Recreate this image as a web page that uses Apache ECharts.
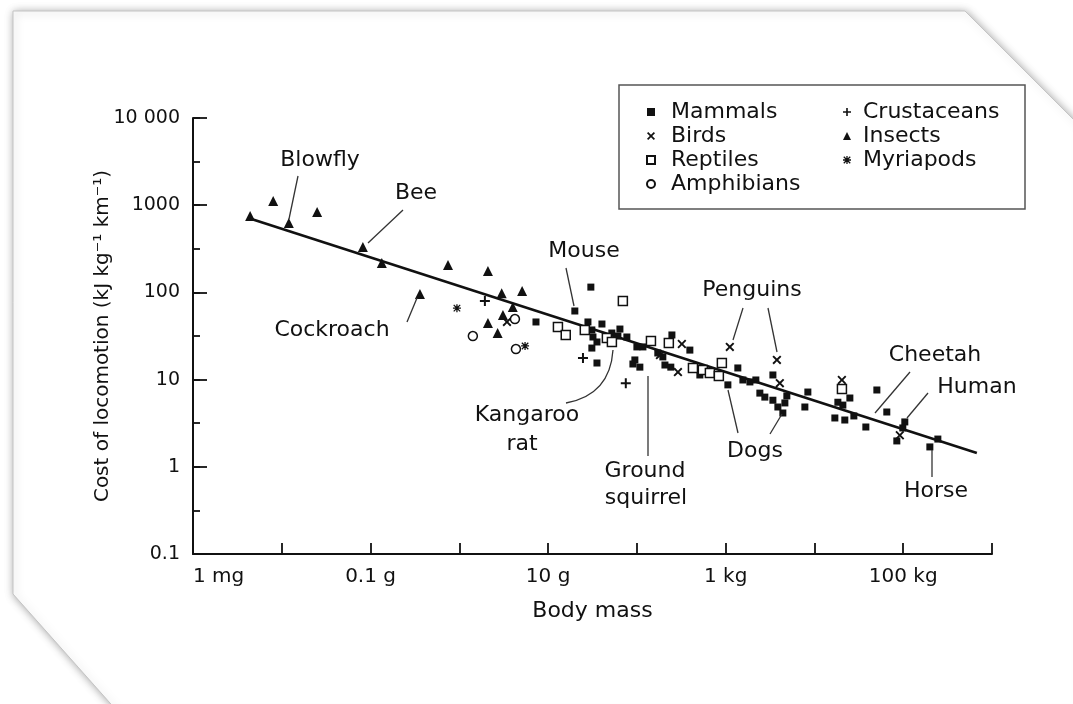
<!DOCTYPE html>
<html><head><meta charset="utf-8">
<script src="https://cdn.jsdelivr.net/npm/echarts@6/dist/echarts.min.js"></script>
<style>html,body{margin:0;padding:0;background:#fff}#c{width:1073px;height:704px}</style>
</head><body><div id="c"></div>
<script>
// ---- data: [body mass (g), cost of locomotion (kJ kg-1 km-1)] ----
const mammals = [
  [7.3,45.8],[20,61.2],[30.3,115],[28.1,45.8],[31.1,37.1],[32,30.8],[40.4,43.4],[35.5,27],
  [31.1,23],[35.5,15.5],[64.4,38],[61.1,31.6],[77.1,30.8],[52.2,34.2],[100,23.7],[117,23.7],
  [94.9,16.8],[108,13.9],[90.2,15.1],[172,20.2],[196,18.2],[248,32.5],[395,21.8],[207,14.7],
  [241,13.9],[512,11.3],[1059,8.7],[1371,13.6],[1563,9.9],[1875,9.4],[2188,9.9],[3404,11.3],
  [2427,7.0],[2762,6.3],[3404,5.8],[3873,4.85],[4887,6.5],[4645,5.4],[4406,4.14],[8430,7.2],
  [7800,4.85],[18360,5.5],[20890,5.1],[25060,6.15],[16980,3.63],[21980,3.44],[27800,3.83],
  [50470,7.6],[65310,4.25],[37930,2.86],[104200,3.27],[98900,2.79],[84700,1.98],[245500,2.08],
  [199500,1.69]
];
const birds = [
  [3.44,45.8],[182,19.1],[321,25.6],[290,12.2],[1114,23.7],[3776,16.8],[4074,9.1],[20370,9.9],[91600,2.3]
];
const reptiles = [
  [12.9,40.1],[15.8,32.5],[25.9,37.1],[45.9,30],[52.3,27],[69.5,79.6],[144,27.7],[229,26.3],
  [428,13.6],[553,12.9],[664,11.9],[838,11],[906,15.5],[20400,7.8]
];
const amphibians = [[1.42,31.6],[4.34,22.4],[4.23,49.5]];
const crustaceans = [[1.94,79.6],[24.7,17.7],[75,9.1]];
const insects = [
  [0.0044,752],[0.008,1117],[0.012,625],[0.025,836],[0.082,332],[0.134,217],[0.36,96],
  [0.745,206],[2.1,176],[3.0,98],[5.1,104],[4.0,68],[3.1,55],[2.1,44.6],[2.7,34.2]
];
const myriapods = [[0.94,66],[5.5,24.3]];
const trendLine = [[0.0042,713],[675000,1.44]];

const xTickExp = [-3,-1,1,3,5];
const xTickLabels = ['1 mg','0.1 g','10 g','1 kg','100 kg'];
const yTickExp = [-1,0,1,2,3,4];
const yTickLabels = ['0.1','1','10','100','1000','10 000'];

// ---- styling ----
const FONT = 'DejaVu Sans';
const INK = '#111';
const X_PATH = 'path://M1.5,0 L5,3.5 L8.5,0 L10,1.5 L6.5,5 L10,8.5 L8.5,10 L5,6.5 L1.5,10 L0,8.5 L3.5,5 L0,1.5 Z';
const PLUS_PATH = 'path://M4,0 H6 V4 H10 V6 H6 V10 H4 V6 H0 V4 H4 Z';
const STAR_PATH = 'path://M4.2,0 H5.8 V4.2 H10 V5.8 H5.8 V10 H4.2 V5.8 H0 V4.2 H4.2 Z M1.5,0.4 L5,3.9 L8.5,0.4 L9.6,1.5 L6.1,5 L9.6,8.5 L8.5,9.6 L5,6.1 L1.5,9.6 L0.4,8.5 L3.9,5 L0.4,1.5 Z';

function lab(exps, labels){
  return function(v){ const e = Math.round(Math.log10(v)); const i = exps.indexOf(e); return i >= 0 ? labels[i] : ''; };
}
const openStyle = {color:'#fff', borderColor:INK, borderWidth:1.5, opacity:1};
function sc(name, data, symbol, size, style){
  return {name, type:'scatter', data, symbol, symbolSize:size, itemStyle: style || {color:INK, opacity:1}, z:3, emphasis:{disabled:true}};
}
function txt(t, x, y){
  return {type:'text', x, y, z:10, style:{text:t, fill:INK, font:'22px "'+FONT+'"', align:'center', verticalAlign:'middle'}};
}
function ln(x1,y1,x2,y2){
  return {type:'line', z:10, shape:{x1,y1,x2,y2}, style:{stroke:'#333', lineWidth:1.3}};
}

const chart = echarts.init(document.getElementById('c'), null, {renderer:'canvas'});
chart.setOption({
  backgroundColor:'#fff',
  animation:false,
  grid:{left:193, right:81, top:118, bottom:150, containLabel:false},
  xAxis:{
    type:'log', logBase:10, min:0.001, max:1000000,
    name:'Body mass', nameLocation:'middle', nameGap:46,
    nameTextStyle:{fontFamily:FONT, fontSize:22, color:INK},
    axisLine:{show:true, onZero:false, lineStyle:{color:INK, width:2}},
    axisTick:{show:true, inside:true, length:11, lineStyle:{color:INK, width:1.8}},
    axisLabel:{formatter:lab(xTickExp, xTickLabels), fontFamily:FONT, fontSize:20, color:INK, margin:13, alignMinLabel:'left'},
    splitLine:{show:false}, minorTick:{show:false}
  },
  yAxis:[{
    type:'log', logBase:10, min:0.1, max:10000,
    name:'Cost of locomotion (kJ kg⁻¹ km⁻¹)', nameLocation:'middle', nameGap:80, nameMoveOverlap:false,
    nameTextStyle:{fontFamily:FONT, fontSize:20, color:INK},
    axisLine:{show:true, onZero:false, lineStyle:{color:INK, width:2}},
    axisTick:{show:true, inside:true, length:14, lineStyle:{color:INK, width:1.8}},
    axisLabel:{formatter:lab(yTickExp, yTickLabels), fontFamily:FONT, fontSize:19, color:INK, margin:13},
    splitLine:{show:false}
  },{
    type:'value', min:-1, max:4, interval:0.5, position:'left',
    axisLine:{show:false, onZero:false}, axisLabel:{show:false}, splitLine:{show:false},
    axisTick:{show:true, inside:true, length:7, lineStyle:{color:INK, width:1.8}}
  }],
  legend:[{
    data:['Mammals','Birds','Reptiles','Amphibians'], orient:'vertical', left:641, top:96,
    itemWidth:8, itemHeight:8, itemGap:2, selectedMode:false,
    textStyle:{fontFamily:FONT, fontSize:22, color:INK, padding:[0,0,0,11]}
  },{
    data:['Crustaceans','Insects','Myriapods'], orient:'vertical', left:838, top:96,
    itemWidth:8, itemHeight:8, itemGap:2, selectedMode:false,
    textStyle:{fontFamily:FONT, fontSize:22, color:INK, padding:[0,0,0,7]}
  }],
  series:[
    {type:'line', data:trendLine, symbol:'none', lineStyle:{color:INK, width:2.6}, z:2, silent:true, emphasis:{disabled:true}},
    sc('Mammals', mammals, 'rect', 7),
    sc('Birds', birds, X_PATH, 9),
    sc('Reptiles', reptiles, 'rect', 9, openStyle),
    sc('Amphibians', amphibians, 'circle', 9, openStyle),
    sc('Crustaceans', crustaceans, PLUS_PATH, 10),
    sc('Insects', insects, 'triangle', 10),
    sc('Myriapods', myriapods, STAR_PATH, 8)
  ],
  graphic:[
    {type:'polygon', z:-10, shape:{points:[[13,11],[965,11],[1080,126],[1080,712],[118,712],[13,594]]},
     style:{fill:'#fff', stroke:'#c4c4c4', lineWidth:1, shadowBlur:8, shadowColor:'rgba(0,0,0,0.35)', shadowOffsetX:1, shadowOffsetY:1}},
    {type:'rect', z:1, shape:{x:619, y:85, width:406, height:124}, style:{fill:'#fff', stroke:'#555', lineWidth:1.5}},
    txt('Blowfly',320,160), ln(298,176,289,219),
    txt('Bee',416,193), ln(403,210,368,243),
    txt('Cockroach',332,330), ln(407,322,417,298),
    txt('Mouse',584,251), ln(566,268,574,306),
    txt('Penguins',752,290), ln(743,308,733,340), ln(768,308,777,352),
    txt('Kangaroo',527,415), txt('rat',522,444),
    {type:'bezierCurve', z:10, shape:{x1:566,y1:403,x2:613,y2:350,cpx1:610,cpy1:395}, style:{stroke:'#333', lineWidth:1.3, fill:null}},
    txt('Ground',645,471), txt('squirrel',646,498), ln(648,376,648,456),
    txt('Dogs',755,451), ln(738,433,728,390), ln(770,434,782,414),
    txt('Cheetah',935,355), ln(910,372,875,413),
    txt('Human',977,387), ln(928,393,907,418),
    txt('Horse',936,491), ln(932,477,932,450)
  ]
});
</script>
</body></html>
